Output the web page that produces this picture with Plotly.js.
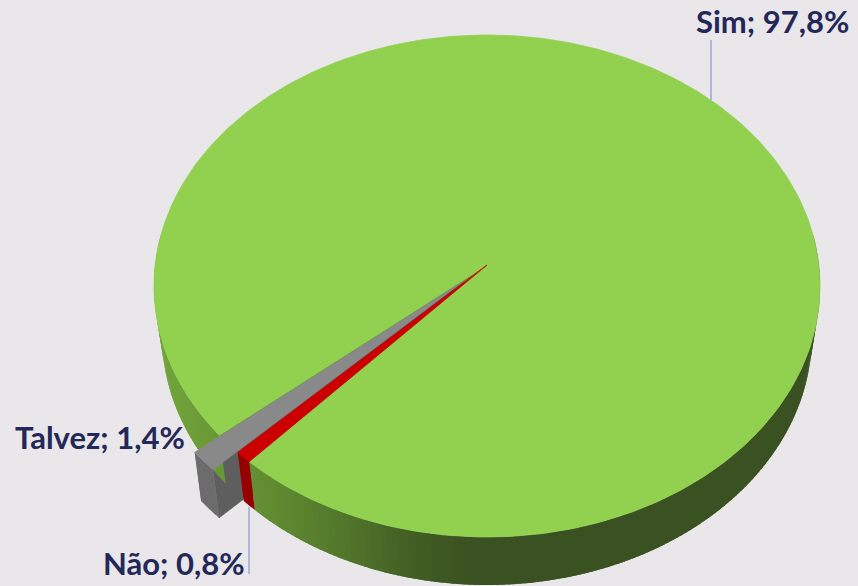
<!DOCTYPE html>
<html>
<head>
<meta charset="utf-8">
<script src="https://cdn.plot.ly/plotly-3.0.1.min.js"></script>
<style>
  html, body { margin: 0; padding: 0; background: #E9E7EA; }
  #chart { width: 858px; height: 586px; }
</style>
</head>
<body>
<div id="chart"></div>
<script>
// ---- data ----
const labels = ['Sim', 'Não', 'Talvez'];
const values = [97.8, 0.8, 1.4];
const topColors = ['#92D050', '#CC0000', '#898989'];
const explode = [0, 0, 1];

// ---- styling / geometry (pixel space) ----
const startAngle = 143.5;            // degrees, clockwise on screen
const G = {cx: 487, cy: 286, rx: 333, ry: 251, apexY: 265,
           bcy: 335, brx: 325, bry: 250, bapexY: 314, pull: 30};
const labelPos = [
  {x: 694, y: 21, xanchor: 'left'},
  {x: 247, y: 563, xanchor: 'right'},
  {x: 187, y: 437, xanchor: 'right'}
];
const leaders = [
  [711, 40, 711, 100],
  [249, 507, 249, 574]
];

const rad = d => d * Math.PI / 180;
const topPt = t => [G.cx + G.rx * Math.cos(rad(t)), G.cy + G.ry * Math.sin(rad(t))];
const botPt = t => [G.cx + G.brx * Math.cos(rad(t)), G.bcy + G.bry * Math.sin(rad(t))];
const apexT = [G.cx, G.apexY];
const apexB = [G.cx, G.bapexY];

function lerp(a, b, f) { return a + (b - a) * f; }
function rgb(c) { return 'rgb(' + c.map(v => Math.round(v)).join(',') + ')'; }
function stopColor(stops, x) {
  if (x <= stops[0][0]) return rgb(stops[0][1]);
  for (let i = 1; i < stops.length; i++) {
    if (x <= stops[i][0]) {
      const f = (x - stops[i - 1][0]) / (stops[i][0] - stops[i - 1][0]);
      return rgb(stops[i - 1][1].map((v, k) => lerp(v, stops[i][1][k], f)));
    }
  }
  return rgb(stops[stops.length - 1][1]);
}
const wallStops = [
  [[170, [112, 162, 58]], [260, [98, 142, 50]], [350, [80, 115, 42]], [410, [66, 94, 36]], [470, [58, 81, 33]]],
  [[0, [150, 0, 0]], [900, [150, 0, 0]]],
  [[0, [108, 108, 108]], [900, [108, 108, 108]]]
];
const cutColors = ['rgb(104,150,52)', 'rgb(130,0,0)', 'rgb(94,94,94)'];

// slice angles
const total = values.reduce((a, b) => a + b, 0);
const slices = [];
let acc = startAngle;
values.forEach((v, i) => {
  const a = acc, b = acc + v / total * 360;
  acc = b;
  let off = [0, 0];
  if (explode[i]) {
    const m = topPt((a + b) / 2);
    const dx = m[0] - apexT[0], dy = m[1] - apexT[1];
    const L = Math.hypot(dx, dy);
    off = [dx / L * G.pull * explode[i], dy / L * G.pull * explode[i]];
  }
  slices.push({i, a, b, off});
});

function poly(pts, off, color, lw) {
  return {
    type: 'scatter', mode: 'lines', fill: 'toself',
    x: pts.map(p => p[0] + off[0]), y: pts.map(p => p[1] + off[1]),
    line: {color: color, width: lw === undefined ? 0.8 : lw}, fillcolor: color,
    hoverinfo: 'skip', showlegend: false
  };
}
function arc(f, a, b, n) {
  const pts = [];
  for (let k = 0; k <= n; k++) pts.push(f(a + (b - a) * k / n));
  return pts;
}
function topFace(s) {
  const n = Math.max(4, Math.ceil((s.b - s.a) / 1));
  return poly([apexT].concat(arc(topPt, s.a, s.b, n)).concat([apexT]), s.off, topColors[s.i]);
}
function walls(s) {
  const out = [];
  for (let k = -1; k <= 2; k++) {
    const lo = Math.max(s.a, -12 + 360 * k), hi = Math.min(s.b, 192 + 360 * k);
    if (hi <= lo) continue;
    const nseg = Math.max(1, Math.ceil((hi - lo) / 1));
    for (let j = 0; j < nseg; j++) {
      const t0 = lo + (hi - lo) * j / nseg;
      const t1 = Math.min(hi, lo + (hi - lo) * (j + 1) / nseg + 0.8);
      const pts = arc(topPt, t0, t1, 2).concat(arc(botPt, t1, t0, 2));
      const xm = topPt((t0 + t1) / 2)[0] + s.off[0];
      out.push(poly(pts.concat([pts[0]]), s.off, stopColor(wallStops[s.i], xm), 0));
    }
  }
  return out;
}
function cutFace(s, t) {
  return poly([apexT, topPt(t), botPt(t), apexB, apexT], s.off, cutColors[s.i]);
}

const traces = [];
// visible cut faces (edges facing the viewer next to an exploded slice)
slices.forEach((s, idx) => {
  const prev = slices[(idx + slices.length - 1) % slices.length];
  if (Math.cos(rad(s.a)) < 0 && (explode[s.i] || explode[prev.i])) traces.push(cutFace(s, s.a));
  const next = slices[(idx + 1) % slices.length];
  if (Math.cos(rad(s.b)) > 0 && (explode[s.i] || explode[next.i])) traces.push(cutFace(s, s.b));
});
// non-exploded slices: walls then tops
slices.filter(s => !explode[s.i]).forEach(s => walls(s).forEach(w => traces.push(w)));
slices.filter(s => !explode[s.i]).forEach(s => traces.push(topFace(s)));
// exploded slices on top
slices.filter(s => explode[s.i]).forEach(s => {
  walls(s).forEach(w => traces.push(w));
  traces.push(topFace(s));
});

const fmt = v => v.toFixed(1).replace('.', ',') + '%';
const annotations = labels.map((l, i) => ({
  x: labelPos[i].x, y: labelPos[i].y, xref: 'x', yref: 'y',
  xanchor: labelPos[i].xanchor, yanchor: 'middle', showarrow: false,
  text: l + '; ' + fmt(values[i]),
  font: {family: 'Lato, "Open Sans", sans-serif', size: 31, color: '#232858', weight: 'bold'}
}));
const shapes = leaders.map(p => ({
  type: 'line', xref: 'x', yref: 'y', x0: p[0], y0: p[1], x1: p[2], y1: p[3],
  line: {color: '#9FA7DA', width: 1.5}
}));

const layout = {
  width: 858, height: 586,
  margin: {l: 0, r: 0, t: 0, b: 0, pad: 0},
  paper_bgcolor: '#E9E7EA', plot_bgcolor: '#E9E7EA',
  xaxis: {range: [0, 858], visible: false, fixedrange: true},
  yaxis: {range: [586, 0], visible: false, fixedrange: true},
  showlegend: false,
  annotations: annotations,
  shapes: shapes
};
Plotly.newPlot('chart', traces, layout, {staticPlot: true, displayModeBar: false});
</script>
</body>
</html>
